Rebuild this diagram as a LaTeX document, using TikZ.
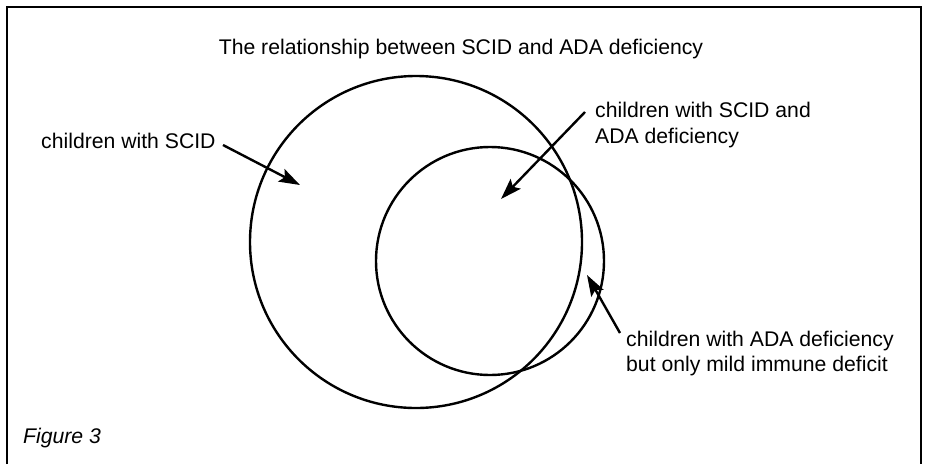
\documentclass[tikz,border=0pt]{standalone}
\usepackage{fontspec}
\setmainfont{Liberation Sans}
\usetikzlibrary{arrows.meta}
\begin{document}
\begin{tikzpicture}[x=1pt,y=-1pt,
  lbl/.style={inner sep=0pt,anchor=base west,font=\fontsize{21.2}{26}\selectfont},
  ring/.style={draw=black,line width=2.4pt,circle,inner sep=0pt},
  pointer/.style={draw=black,line width=2.4pt,-{Stealth[length=21pt,width=14pt,inset=4pt]}},
  frameline/.style={draw=black,line width=2pt}]
\useasboundingbox (0,0) rectangle (926,464);
\fill[white] (0,0) rectangle (926,464);
% frame (open at the bottom)
\draw[frameline] (7,464) -- (7,7) -- (921,7) -- (921,464);
% title
\node[lbl,anchor=base] (title) at (461,54) {The relationship between SCID and ADA deficiency};
% circles
\node[ring,minimum size=332pt] (scid) at (416,242) {};
\node[ring,minimum size=228pt] (ada) at (490,261) {};
% labels
\node[lbl] (l1) at (41,148) {children with SCID};
\node[lbl] (l2a) at (595,117) {children with SCID and};
\node[lbl] (l2b) at (595,143) {ADA deficiency};
\node[lbl] (l3a) at (626,346) {children with ADA deficiency};
\node[lbl] (l3b) at (626,371) {but only mild immune deficit};
\node[lbl,font=\fontsize{21.2}{26}\selectfont\itshape] (fig) at (23,443) {Figure 3};
% arrow end points
\coordinate (t1) at (223,145); \coordinate (h1) at (300,185);
\coordinate (t2) at (585,112); \coordinate (h2) at (501,199);
\coordinate (t3) at (620,333); \coordinate (h3) at (587,275);
\draw[pointer] (t1) -- (h1);
\draw[pointer] (t2) -- (h2);
\draw[pointer] (t3) -- (h3);
\end{tikzpicture}
\end{document}
